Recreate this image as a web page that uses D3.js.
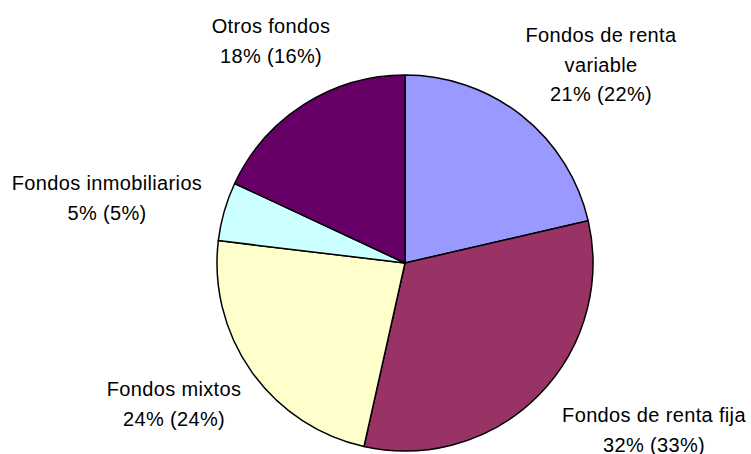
<!DOCTYPE html>
<html>
<head>
<meta charset="utf-8">
<script src="https://cdn.jsdelivr.net/npm/d3@7"></script>
<style>
  body { margin: 0; background: #fff; }
  text { font-family: "Liberation Sans", Arial, sans-serif; font-size: 20px; letter-spacing: 0.35px; fill: #000; }
</style>
</head>
<body>
<div id="chart"></div>
<script>
// data
var categories = ["Fondos de renta variable", "Fondos de renta fija", "Fondos mixtos", "Fondos inmobiliarios", "Otros fondos"];
var shares = [21.4, 32.1, 23.4, 5.05, 18.05];
// printed percentages (current, previous)
var pctLabels = [21, 32, 24, 5, 18];
var prevLabels = [22, 33, 24, 5, 16];
var labelLines = [
    ["Fondos de renta", "variable"],
    ["Fondos de renta fija"],
    ["Fondos mixtos"],
    ["Fondos inmobiliarios"],
    ["Otros fondos"]
];
var colors = ["#9999ff", "#993366", "#ffffcc", "#ccffff", "#660066"];

// label layout (center x, first baseline)
var labelPos = [[601, 42], [654, 422], [174, 396], [107, 190], [271, 33]];

var width = 751, height = 454;
var cx = 405, cy = 263, r = 188;

var svg = d3.select("#chart")
    .append("svg")
    .attr("width", width)
    .attr("height", height);

var pie = d3.pie().sort(null).value(function (d) { return d; });
var arc = d3.arc().innerRadius(0).outerRadius(r);

var g = svg.append("g")
    .attr("transform", "translate(" + cx + "," + cy + ")");

g.selectAll("path")
    .data(pie(shares))
    .enter()
    .append("path")
    .attr("d", arc)
    .attr("fill", function (d, i) { return colors[i]; })
    .attr("stroke", "#000")
    .attr("stroke-width", 1.5)
    .attr("stroke-linejoin", "round");

// labels
var lbl = svg.selectAll(".lbl")
    .data(categories)
    .enter()
    .append("text")
    .attr("class", "lbl")
    .attr("text-anchor", "middle")
    .attr("x", function (d, i) { return labelPos[i][0]; })
    .attr("y", function (d, i) { return labelPos[i][1]; });

lbl.each(function (d, i) {
    var t = d3.select(this);
    var lines = labelLines[i].concat([pctLabels[i] + "% (" + prevLabels[i] + "%)"]);
    lines.forEach(function (s, j) {
        t.append("tspan")
            .attr("x", labelPos[i][0])
            .attr("dy", j === 0 ? 0 : 29.5)
            .text(s);
    });
});
</script>
</body>
</html>
